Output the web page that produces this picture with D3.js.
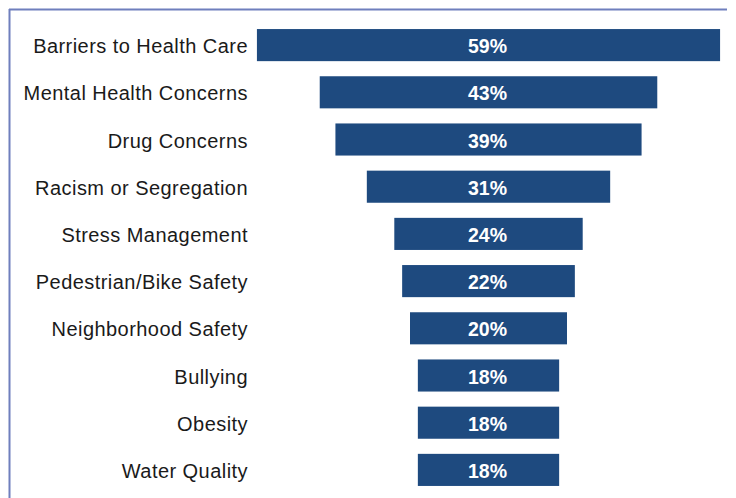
<!DOCTYPE html>
<html><head><meta charset="utf-8">
<script src="https://cdn.jsdelivr.net/npm/d3@7"></script>
<style>body{margin:0;background:#fff;}svg{display:block;}</style>
</head><body>
<svg id="c" width="736" height="498"></svg>
<script>
const categories = ["Barriers to Health Care","Mental Health Concerns","Drug Concerns","Racism or Segregation","Stress Management","Pedestrian/Bike Safety","Neighborhood Safety","Bullying","Obesity","Water Quality"];
const values = [59,43,39,31,24,22,20,18,18,18];

const svg = d3.select("#c");
// frame
svg.append("line").attr("x1",9).attr("x2",727).attr("y1",9.5).attr("y2",9.5).attr("stroke","#6f7fbd").attr("stroke-width",2);
svg.append("line").attr("x1",9.5).attr("x2",9.5).attr("y1",9).attr("y2",498).attr("stroke","#6f7fbd").attr("stroke-width",2);

const cx = 488.5;
const pxPerPct = 7.85;
const w = d3.scaleLinear().domain([0,100]).range([0,100*pxPerPct]);
const y = d3.scaleBand().domain(categories).range([21.5,493.5]).paddingInner(0.32).paddingOuter(0.16);

const g = svg.append("g");
g.selectAll("rect").data(categories).join("rect")
  .attr("x",(d,i)=>cx - w(values[i])/2)
  .attr("width",(d,i)=>w(values[i]))
  .attr("y",d=>y(d))
  .attr("height",y.bandwidth())
  .attr("fill","#1e4a7f");

g.selectAll("text.v").data(categories).join("text").attr("class","v")
  .attr("x",cx - 1).attr("y",d=>y(d)+y.bandwidth()/2 + 1)
  .attr("text-anchor","middle").attr("dominant-baseline","central")
  .attr("fill","#fff").attr("font-family","Liberation Sans, Arial, sans-serif")
  .attr("font-weight","bold").attr("font-size",19.5)
  .text((d,i)=>values[i]+"%");

g.selectAll("text.l").data(categories).join("text").attr("class","l")
  .attr("x",248).attr("y",d=>y(d)+y.bandwidth()/2 + 1)
  .attr("text-anchor","end").attr("dominant-baseline","central")
  .attr("fill","#1a1a1a").attr("font-family","Liberation Sans, Arial, sans-serif")
  .attr("font-size",20).attr("letter-spacing",0.45)
  .text(d=>d);
</script>
</body></html>
